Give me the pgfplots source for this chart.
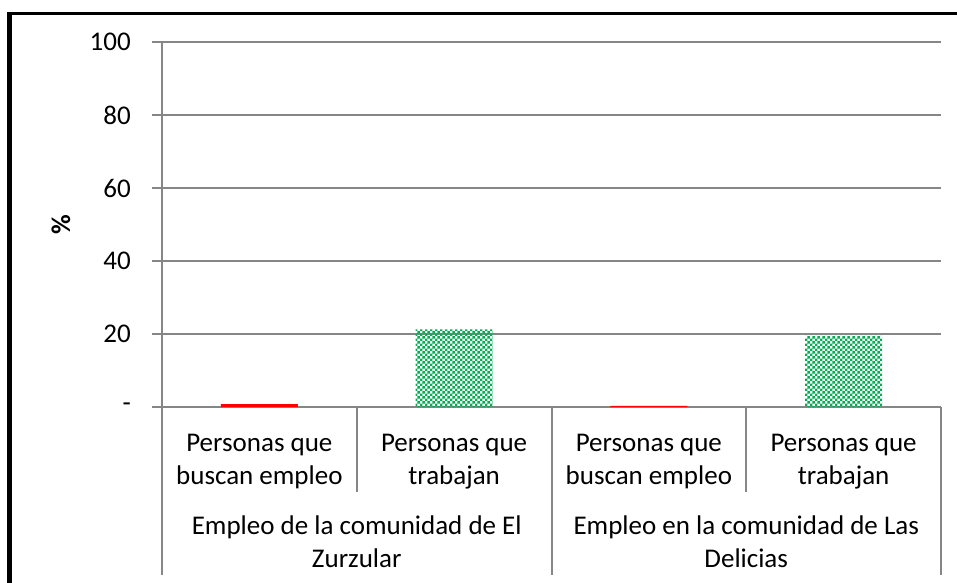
\documentclass[border=0pt]{standalone}
\usepackage{fontspec}
\setmainfont{Carlito}
\usepackage{pgfplots}
\pgfplotsset{compat=1.18}
\usetikzlibrary{patterns}
\definecolor{gridgray}{RGB}{134,134,134}
\definecolor{bargreen}{RGB}{0,176,80}
\definecolor{barred}{RGB}{255,0,0}
\pgfdeclarepatternformonly{finecheck}{\pgfpointorigin}{\pgfqpoint{5.4bp}{5.4bp}}{\pgfqpoint{5.4bp}{5.4bp}}{%
 \pgfpathrectangle{\pgfpointorigin}{\pgfqpoint{2.7bp}{2.7bp}}%
 \pgfpathrectangle{\pgfqpoint{2.7bp}{2.7bp}}{\pgfqpoint{2.7bp}{2.7bp}}%
 \pgfusepath{fill}}
\newcommand{\bigfont}{\fontsize{27bp}{33bp}\selectfont}
\begin{document}
\begin{tikzpicture}
\path[use as bounding box] (0,0) rectangle (957bp,583bp);
\draw[black, line width=4.5bp] (9.7bp,-5bp) -- (9.7bp,569bp);
\draw[black, line width=3.5bp] (7.45bp,569.25bp) -- (965bp,569.25bp);
\begin{axis}[
  at={(162bp,176bp)}, anchor=south west,
  scale only axis, width=779bp, height=365bp,
  xmin=-0.5, xmax=3.5, ymin=0, ymax=100,
  clip=false,
  axis x line*=bottom, axis y line*=left,
  axis line style={gridgray, line width=2bp, -},
  ymajorgrids, grid style={gridgray, line width=2bp},
  ytick={0,20,40,60,80,100},
  yticklabels={-,20,40,60,80,100},
  ytick style={gridgray, line width=2bp},
  tick align=outside, major tick length=10bp,
  xtick={0,1,2,3},
  xtick style={draw=none},
  xticklabels={{Personas que\\buscan empleo},{Personas que\\trabajan},{Personas que\\buscan empleo},{Personas que\\trabajan}},
  xticklabel style={font=\bigfont, align=center, anchor=base, yshift=-67bp},
  yticklabel style={font=\bigfont, anchor=east, inner sep=0pt, xshift=-21bp},
  ylabel={\textbf{\%}},
  ylabel style={font=\bigfont, at={(axis description cs:-0.1297,0.5)}, anchor=center},
  /pgf/number format/assume math mode=true,
  ybar, bar width=77bp,
]
\addplot[ybar, bar shift=0pt, draw=none, fill=barred] coordinates {(0,0.8) (2,0.3)};
\addplot[ybar, bar shift=0pt, draw=none, pattern=finecheck, pattern color=bargreen] coordinates {(1,21.3) (3,19.5)};
\draw[gridgray, line width=2bp] (axis cs:-0.5,0) -- ++(0bp,-168bp);
\draw[gridgray, line width=2bp] (axis cs:1.5,0) -- ++(0bp,-168bp);
\draw[gridgray, line width=2bp] (axis cs:3.5,0) -- ++(0bp,-168bp);
\draw[gridgray, line width=2bp] (axis cs:0.5,0) -- ++(0bp,-85bp);
\draw[gridgray, line width=2bp] (axis cs:2.5,0) -- ++(0bp,-85bp);
\node[font=\bigfont, align=center, anchor=base] at ([yshift=-160bp]axis cs:0.5,0) {Empleo de la comunidad de El\\Zurzular};
\node[font=\bigfont, align=center, anchor=base] at ([yshift=-160bp]axis cs:2.5,0) {Empleo en la comunidad de Las\\Delicias};
\end{axis}
\end{tikzpicture}
\end{document}
